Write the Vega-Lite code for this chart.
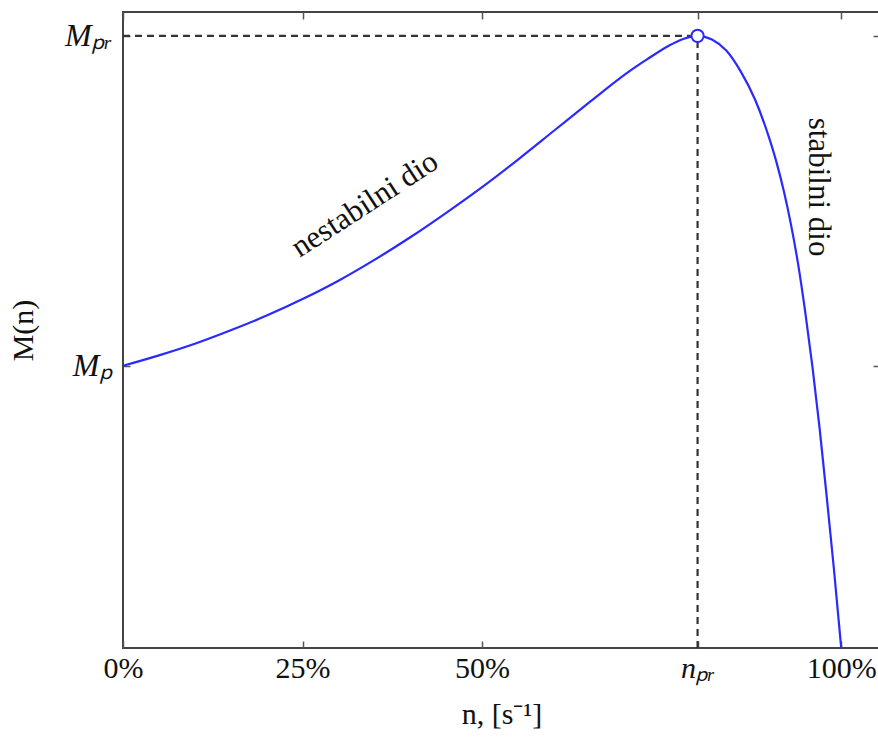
{
  "$schema": "https://vega.github.io/schema/vega-lite/v6.json",
  "width": 757,
  "height": 636,
  "autosize": {"type": "none"},
  "padding": {"left": 123, "top": 12, "right": 0, "bottom": 90},
  "config": {
    "view": {"stroke": "#444", "strokeWidth": 2},
    "font": "Liberation Serif",
    "axis": {
      "grid": false,
      "domain": false,
      "tickColor": "#555",
      "tickWidth": 1.5,
      "tickSize": -7,
      "labelFont": "Liberation Serif",
      "labelFontSize": 30,
      "labelColor": "#111",
      "labelFlush": false,
      "titleFont": "Liberation Serif",
      "titleFontSize": 30,
      "titleFontWeight": "normal",
      "titleColor": "#111"
    }
  },
  "datasets": {
    "curve": [
      {"n": 0, "M": 0.461},
      {"n": 5, "M": 0.478},
      {"n": 10, "M": 0.497},
      {"n": 15, "M": 0.519},
      {"n": 20, "M": 0.543},
      {"n": 25, "M": 0.570},
      {"n": 30, "M": 0.600},
      {"n": 35, "M": 0.634},
      {"n": 40, "M": 0.671},
      {"n": 45, "M": 0.711},
      {"n": 50, "M": 0.753},
      {"n": 55, "M": 0.798},
      {"n": 60, "M": 0.845},
      {"n": 65, "M": 0.892},
      {"n": 70, "M": 0.938},
      {"n": 73, "M": 0.962},
      {"n": 76, "M": 0.984},
      {"n": 78, "M": 0.995},
      {"n": 80, "M": 1.0},
      {"n": 82, "M": 0.994},
      {"n": 84, "M": 0.976},
      {"n": 86, "M": 0.942},
      {"n": 88, "M": 0.896},
      {"n": 90, "M": 0.832},
      {"n": 91, "M": 0.793},
      {"n": 92, "M": 0.747},
      {"n": 93, "M": 0.692},
      {"n": 94, "M": 0.627},
      {"n": 95, "M": 0.548},
      {"n": 96, "M": 0.459},
      {"n": 97, "M": 0.358},
      {"n": 98, "M": 0.245},
      {"n": 99, "M": 0.127},
      {"n": 100, "M": 0}
    ],
    "guides": [
      {"n0": 0, "n1": 80, "M0": 1, "M1": 1},
      {"n0": 80, "n1": 80, "M0": 0, "M1": 1}
    ],
    "peak": [{"n": 80, "M": 1}],
    "labels": [
      {"n": 33.7, "M": 0.724, "text": "nestabilni dio", "angle": 327},
      {"n": 96.7, "M": 0.753, "text": "stabilni dio", "angle": 90}
    ]
  },
  "layer": [
    {
      "data": {"name": "guides"},
      "mark": {"type": "rule", "color": "#333", "strokeWidth": 2.2, "strokeDash": [7, 5]},
      "encoding": {
        "x": {"field": "n0", "type": "quantitative", "scale": {"domain": [0, 105.4], "nice": false, "zero": false},
          "axis": {"orient": "top", "values": [0, 25, 50, 80, 100], "labels": false, "title": null}},
        "x2": {"field": "n1"},
        "y": {"field": "M0", "type": "quantitative", "scale": {"domain": [0, 1.039], "nice": false, "zero": false},
          "axis": {"orient": "right", "values": [0.461, 1], "labels": false, "title": null}},
        "y2": {"field": "M1"}
      }
    },
    {
      "data": {"name": "curve"},
      "mark": {"type": "line", "color": "#2a2aff", "strokeWidth": 2.2, "interpolate": "monotone"},
      "encoding": {
        "x": {"field": "n", "type": "quantitative",
          "axis": {"orient": "bottom", "values": [0, 25, 50, 80, 100],
            "labelExpr": "datum.value == 80 ? 'nₚᵣ' : datum.value + '%'",
            "labelFontStyle": {"condition": {"test": "datum.value == 80", "value": "italic"}, "value": "normal"},
            "labelPadding": 12, "title": "n, [s⁻¹]", "titlePadding": 16}},
        "y": {"field": "M", "type": "quantitative",
          "axis": {"orient": "left", "values": [0.461, 1],
            "labelExpr": "datum.value > 0.9 ? 'Mₚᵣ' : 'Mₚ'",
            "labelFontStyle": "italic", "labelFontSize": 32, "labelPadding": 18,
            "title": "M(n)", "titlePadding": 26}}
      }
    },
    {
      "data": {"name": "peak"},
      "mark": {"type": "point", "filled": true, "fill": "white", "stroke": "#2a2aff", "strokeWidth": 2, "size": 150, "opacity": 1},
      "encoding": {
        "x": {"field": "n", "type": "quantitative", "axis": null},
        "y": {"field": "M", "type": "quantitative", "axis": null}
      }
    },
    {
      "data": {"name": "labels"},
      "mark": {"type": "text", "font": "Liberation Serif", "fontSize": 31, "color": "#111", "align": "center", "baseline": "middle"},
      "encoding": {
        "x": {"field": "n", "type": "quantitative", "axis": null},
        "y": {"field": "M", "type": "quantitative", "axis": null},
        "text": {"field": "text"},
        "angle": {"field": "angle", "type": "quantitative", "scale": null}
      }
    }
  ],
  "resolve": {"axis": {"x": "independent", "y": "independent"}}
}
